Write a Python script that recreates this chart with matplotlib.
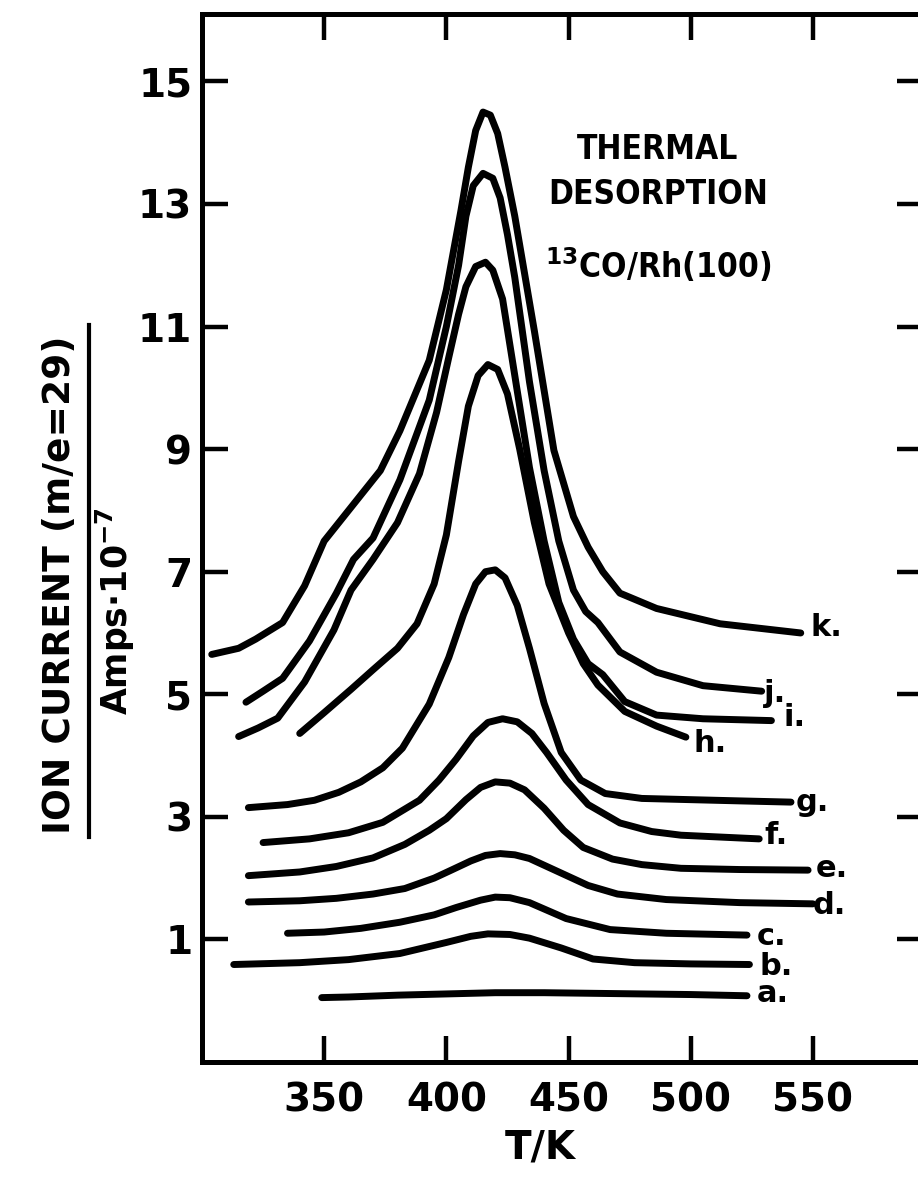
import matplotlib
matplotlib.use("Agg")
import matplotlib.pyplot as plt
from matplotlib.lines import Line2D

plt.rcParams['font.family'] = ['DejaVu Sans']
plt.rcParams['font.weight'] = 'bold'
plt.rcParams['mathtext.fontset'] = 'custom'
plt.rcParams['mathtext.rm'] = 'DejaVu Sans:bold'
plt.rcParams['mathtext.default'] = 'rm'

# curves (T in K, ion current in 1e-7 A)
a_T = [349, 360, 380, 400, 420, 440, 460, 480, 500, 523]
a_I = [0.05, 0.06, 0.09, 0.11, 0.13, 0.13, 0.12, 0.11, 0.10, 0.08]

b_T = [313, 340, 360, 381, 400, 410, 417, 426, 434, 447, 460, 477, 500, 524]
b_I = [0.59, 0.62, 0.67, 0.77, 0.95, 1.05, 1.09, 1.08, 1.02, 0.86, 0.68, 0.62, 0.60, 0.59]

c_T = [335, 350, 365, 381, 395, 404, 414, 420, 426, 434, 449, 467, 490, 523]
c_I = [1.10, 1.12, 1.18, 1.28, 1.40, 1.52, 1.64, 1.69, 1.68, 1.60, 1.34, 1.16, 1.10, 1.07]

d_T = [319, 340, 355, 370, 383, 395, 402, 410, 416, 422, 428, 434, 446, 458, 470, 490, 520, 550]
d_I = [1.61, 1.63, 1.67, 1.74, 1.83, 2.00, 2.13, 2.28, 2.37, 2.40, 2.38, 2.32, 2.10, 1.88, 1.74, 1.65, 1.60, 1.58]

e_T = [319, 340, 355, 370, 383, 393, 400, 408, 414, 420, 426, 432, 440, 448, 456, 468, 480, 496, 520, 548]
e_I = [2.04, 2.10, 2.19, 2.33, 2.55, 2.78, 2.97, 3.28, 3.48, 3.57, 3.55, 3.44, 3.14, 2.78, 2.50, 2.31, 2.22, 2.16, 2.14, 2.13]

f_T = [325, 344, 360, 374, 389, 397, 404, 411, 417, 423, 429, 435, 441, 449, 458, 471, 484, 496, 528]
f_I = [2.58, 2.64, 2.74, 2.91, 3.27, 3.60, 3.94, 4.32, 4.54, 4.60, 4.55, 4.36, 4.05, 3.60, 3.20, 2.90, 2.76, 2.70, 2.64]

g_T = [319, 335, 346, 356, 365, 374, 382, 393, 401, 407, 412, 416, 420, 424, 429, 434, 440, 447, 455, 465, 480, 500, 520, 541]
g_I = [3.15, 3.20, 3.27, 3.40, 3.57, 3.80, 4.12, 4.84, 5.60, 6.30, 6.80, 7.00, 7.03, 6.90, 6.45, 5.75, 4.85, 4.05, 3.60, 3.38, 3.30, 3.28, 3.26, 3.24]

h_T = [340, 350, 361, 370, 380, 388, 395, 400, 405, 409, 413, 417, 421, 425, 430, 436, 442, 450, 456, 462, 473, 486, 498]
h_I = [4.36, 4.70, 5.08, 5.40, 5.75, 6.15, 6.80, 7.60, 8.80, 9.70, 10.20, 10.38, 10.30, 9.90, 9.00, 7.80, 6.80, 6.00, 5.50, 5.15, 4.72, 4.48, 4.30]

i_T = [315, 323, 331, 342, 354, 361, 370, 380, 389, 396, 401, 405, 408, 412, 416, 419, 423, 428, 434, 440, 446, 452, 458, 464, 473, 486, 505, 533]
i_I = [4.31, 4.45, 4.61, 5.20, 6.05, 6.70, 7.20, 7.80, 8.60, 9.60, 10.50, 11.20, 11.65, 11.98, 12.05, 11.92, 11.45, 10.20, 8.70, 7.50, 6.50, 5.90, 5.50, 5.32, 4.88, 4.66, 4.60, 4.57]

j_T = [318, 325, 333, 344, 355, 362, 370, 381, 393, 400, 405, 408, 411, 415, 419, 422, 425, 428, 434, 440, 446, 452, 457, 462, 471, 486, 505, 529]
j_I = [4.87, 5.05, 5.26, 5.87, 6.65, 7.20, 7.55, 8.50, 9.80, 11.00, 12.00, 12.80, 13.30, 13.50, 13.42, 13.10, 12.50, 11.80, 10.10, 8.65, 7.50, 6.70, 6.35, 6.17, 5.69, 5.36, 5.14, 5.05]

k_T = [304, 315, 322, 333, 342, 350, 358, 365, 373, 381, 393, 400, 406, 409, 412, 415, 418, 421, 424, 428, 436, 444, 452, 458, 464, 471, 486, 512, 545]
k_I = [5.65, 5.75, 5.90, 6.17, 6.77, 7.50, 7.90, 8.25, 8.65, 9.30, 10.45, 11.60, 12.90, 13.60, 14.20, 14.50, 14.45, 14.15, 13.60, 12.80, 10.93, 8.98, 7.90, 7.40, 7.00, 6.65, 6.40, 6.15, 6.00]

curves = [(a_T, a_I), (b_T, b_I), (c_T, c_I), (d_T, d_I), (e_T, e_I), (f_T, f_I),
          (g_T, g_I), (h_T, h_I), (i_T, i_I), (j_T, j_I), (k_T, k_I)]

curve_labels = ['a.', 'b.', 'c.', 'd.', 'e.', 'f.', 'g.', 'h.', 'i.', 'j.', 'k.']
label_T = [527, 528, 527, 550, 551, 530, 543, 501, 538, 530, 549]
label_I = [0.12, 0.55, 1.05, 1.55, 2.16, 2.70, 3.24, 4.19, 4.62, 5.02, 6.09]

x_ticks = [350, 400, 450, 500, 550]
y_ticks = [1, 3, 5, 7, 9, 11, 13, 15]

fig = plt.figure(figsize=(9.18, 11.88), dpi=100)
ax = fig.add_axes([0.220, 0.1061, 0.7854, 0.8821])

for T, I in curves:
    ax.plot(T, I, color='black', lw=5, solid_joinstyle='round', solid_capstyle='round')

for lab, x, y in zip(curve_labels, label_T, label_I):
    ax.text(x, y, lab, fontsize=22, ha='left', va='center')

ax.text(486.6, 13.89, 'THERMAL', fontsize=24, ha='center', va='center',
        fontstretch='condensed')
ax.text(486.6, 13.15, 'DESORPTION', fontsize=24, ha='center', va='center',
        fontstretch='condensed')
ax.text(486.6, 12.0, '$^{13}$CO/Rh(100)', fontsize=24, ha='center', va='center',
        fontstretch='condensed')

ax.set_xlim(300, 595)
ax.set_ylim(-1, 16.1)
ax.set_xticks(x_ticks)
ax.set_yticks(y_ticks)
ax.tick_params(direction='in', length=19, width=3.2, labelsize=28, pad=14,
               top=True, right=True)
ax.tick_params(axis='y', pad=7)
for s in ax.spines.values():
    s.set_linewidth(3.6)

fig.text(0.588, 0.034, 'T/K', fontsize=28, ha='center', va='center')

# y label drawn as a fraction
fig.text(0.065, 0.508, 'ION CURRENT (m/e=29)', fontsize=27, rotation=90,
         ha='center', va='center')
fig.add_artist(Line2D([0.097, 0.097], [0.2955, 0.7264], color='black', lw=3,
                      transform=fig.transFigure))
fig.text(0.126, 0.486, 'Amps$\\cdot$10$^{-7}$', fontsize=25, rotation=90,
         ha='center', va='center')

fig.savefig('out.png', dpi=100)
